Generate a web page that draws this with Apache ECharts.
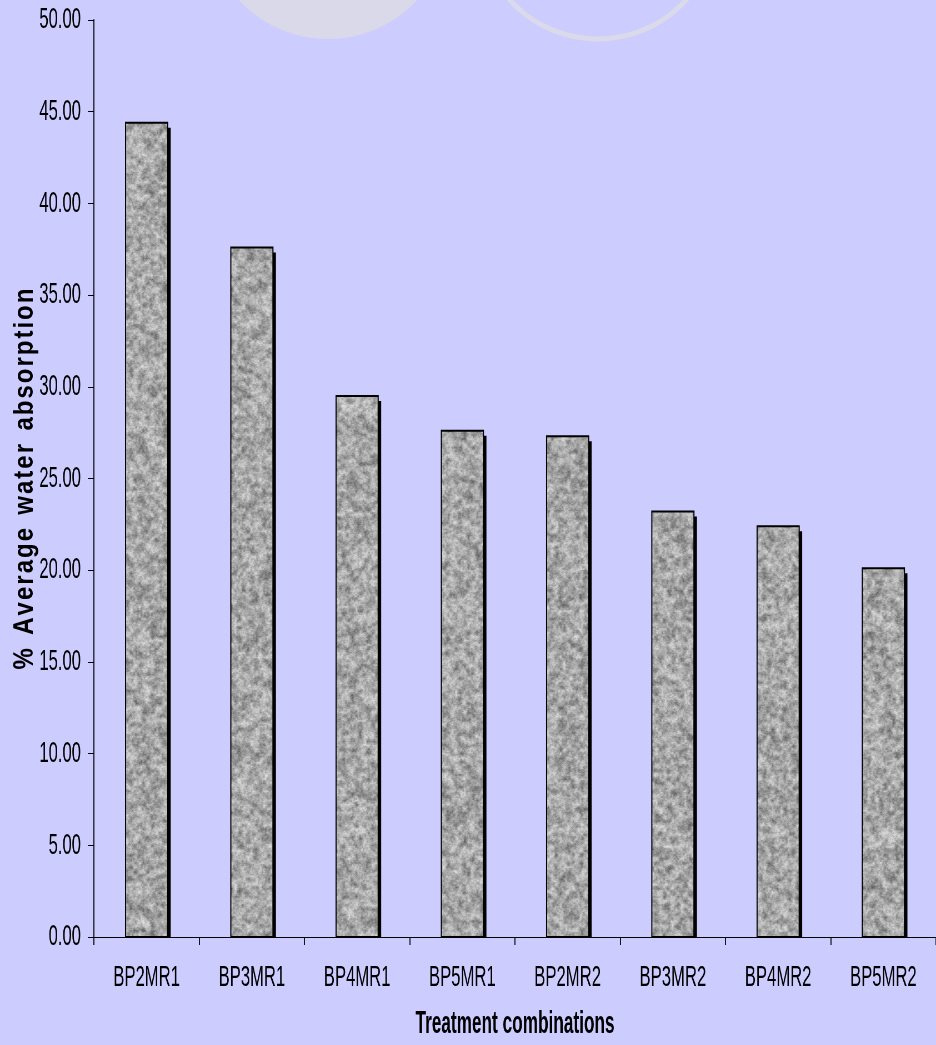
<!DOCTYPE html>
<html>
<head>
<meta charset="utf-8">
<script src="https://cdn.jsdelivr.net/npm/echarts@6/dist/echarts.min.js"></script>
<style>
  html, body { margin: 0; padding: 0; overflow: hidden; background: #ccccff; }
  /* the chart is laid out wide and squeezed horizontally, giving tall, narrow lettering */
  #chart { width: 1685px; height: 1045px; transform: scaleX(0.555490); transform-origin: 0 0; }
</style>
</head>
<body>
<div id="chart"></div>
<script>
const categories = ['BP2MR1', 'BP3MR1', 'BP4MR1', 'BP5MR1', 'BP2MR2', 'BP3MR2', 'BP4MR2', 'BP5MR2'];
const absorption = [44.4, 37.6, 29.5, 27.6, 27.3, 23.2, 22.4, 20.1];
const yMin = 0, yMax = 50, yStep = 5;
const yTitle = '% Average water absorption';
const xTitle = 'Treatment combinations';

const K = 1.8;                 // horizontal squeeze factor of the page
const X = v => v * K;          // on-screen x -> layout x
const FONT = '"Liberation Sans", Arial, sans-serif';
const BG = '#ccccff';

// grey granite fill for the bars, one sheet covering the whole canvas so it never repeats
function graniteTexture(W, H) {
  let seed = 7919;
  const rnd = () => { seed = (seed * 16807) % 2147483647; return seed / 2147483647; };
  const out = document.createElement('canvas');
  out.width = W; out.height = H;
  const ctx = out.getContext('2d');
  ctx.fillStyle = '#aaaaaa';
  ctx.fillRect(0, 0, W, H);
  const layer = (cellW, cellH, lo, hi, alpha, skew) => {
    const cols = Math.ceil(W / cellW), rows = Math.ceil(H / cellH);
    const c = document.createElement('canvas');
    c.width = cols; c.height = rows;
    const g = c.getContext('2d');
    const img = g.createImageData(cols, rows);
    for (let i = 0; i < cols * rows; i++) {
      const v = hi - (hi - lo) * Math.pow(rnd(), skew);
      img.data[i * 4] = img.data[i * 4 + 1] = img.data[i * 4 + 2] = v;
      img.data[i * 4 + 3] = 255;
    }
    g.putImageData(img, 0, 0);
    ctx.globalAlpha = alpha;
    ctx.imageSmoothingEnabled = true;
    ctx.drawImage(c, 0, 0, cols * cellW, rows * cellH);
  };
  layer(7.5, 4.2, 60, 235, 1, 1.45);
  layer(3.2, 2, 85, 235, 0.45, 1.3);
  layer(1.8, 1, 110, 230, 0.22, 1);
  ctx.globalAlpha = 1;
  return out;
}
const granite = graniteTexture(1685, 1045);

// letters of the axis title spread slightly apart
const spacedTitle = yTitle.split(' ').map(w => w.split('').join('\u200A')).join('  ');

// bar with a hard black drop shadow that stops at the category axis
function renderBar(params, api) {
  const idx = api.value(0);
  const top = api.coord([idx, api.value(1)]);
  const base = api.coord([idx, 0]);
  const w = api.size([1, 0])[0] * 0.4;
  const x0 = top[0] - w / 2;
  const sx = X(3), sy = 5;
  return {
    type: 'group',
    children: [
      { type: 'rect', shape: { x: x0 + sx, y: top[1] + sy, width: w, height: base[1] - top[1] - sy },
        style: { fill: '#000' } },
      { type: 'rect', shape: { x: x0, y: top[1], width: w, height: base[1] - top[1] },
        style: { fill: { type: 'pattern', image: granite, repeat: 'no-repeat' },
                 stroke: '#000', lineWidth: 2 } }
    ]
  };
}

const chart = echarts.init(document.getElementById('chart'), null, { renderer: 'canvas' });

chart.setOption({
  backgroundColor: BG,
  animation: false,
  grid: { left: X(94), top: 20, width: X(851.2), height: 918 },
  xAxis: {
    type: 'category',
    data: categories,
    z: 5,
    axisLine: { lineStyle: { color: '#000', width: 1 } },
    axisTick: { show: true, length: 8, lineStyle: { color: '#000', width: K } },
    axisLabel: { color: '#000', fontFamily: FONT, fontSize: 30, margin: 26 },
    name: xTitle,
    nameLocation: 'middle',
    nameGap: 72,
    nameTextStyle: { color: '#000', fontFamily: FONT, fontSize: 31, fontWeight: 'bold' }
  },
  yAxis: {
    type: 'value',
    min: yMin, max: yMax, interval: yStep,
    z: 5,
    axisLine: { show: true, lineStyle: { color: '#000', width: K } },
    axisTick: { show: true, length: X(6), lineStyle: { color: '#000', width: 1 } },
    axisLabel: { color: '#000', fontFamily: FONT, fontSize: 30, margin: X(13),
                 formatter: v => v.toFixed(2) },
    splitLine: { show: false }
  },
  series: [{
    type: 'custom',
    name: yTitle,
    data: absorption.map((v, i) => [i, v]),
    encode: { x: 0, y: 1 },
    renderItem: renderBar,
    z: 2,
    silent: true
  }],
  graphic: [
    // pale decorative discs along the top edge
    { type: 'circle', x: X(328), y: -83, scaleX: K, z: 0, silent: true,
      shape: { cx: 0, cy: 0, r: 122 }, style: { fill: '#d9d9ea' } },
    { type: 'circle', x: X(598), y: -80, scaleX: K, z: 0, silent: true,
      shape: { cx: 0, cy: 0, r: 119 }, style: { fill: 'none', stroke: '#dadaea', lineWidth: 5 } },
    // vertical axis title
    { type: 'text', x: X(25), y: 479, rotation: Math.PI / 2, scaleY: K * 1.15, z: 6, silent: true,
      style: { text: spacedTitle, fill: '#000', font: 'bold 24px ' + FONT,
               textAlign: 'center', textVerticalAlign: 'middle', align: 'center', verticalAlign: 'middle' } }
  ]
});
</script>
</body>
</html>
